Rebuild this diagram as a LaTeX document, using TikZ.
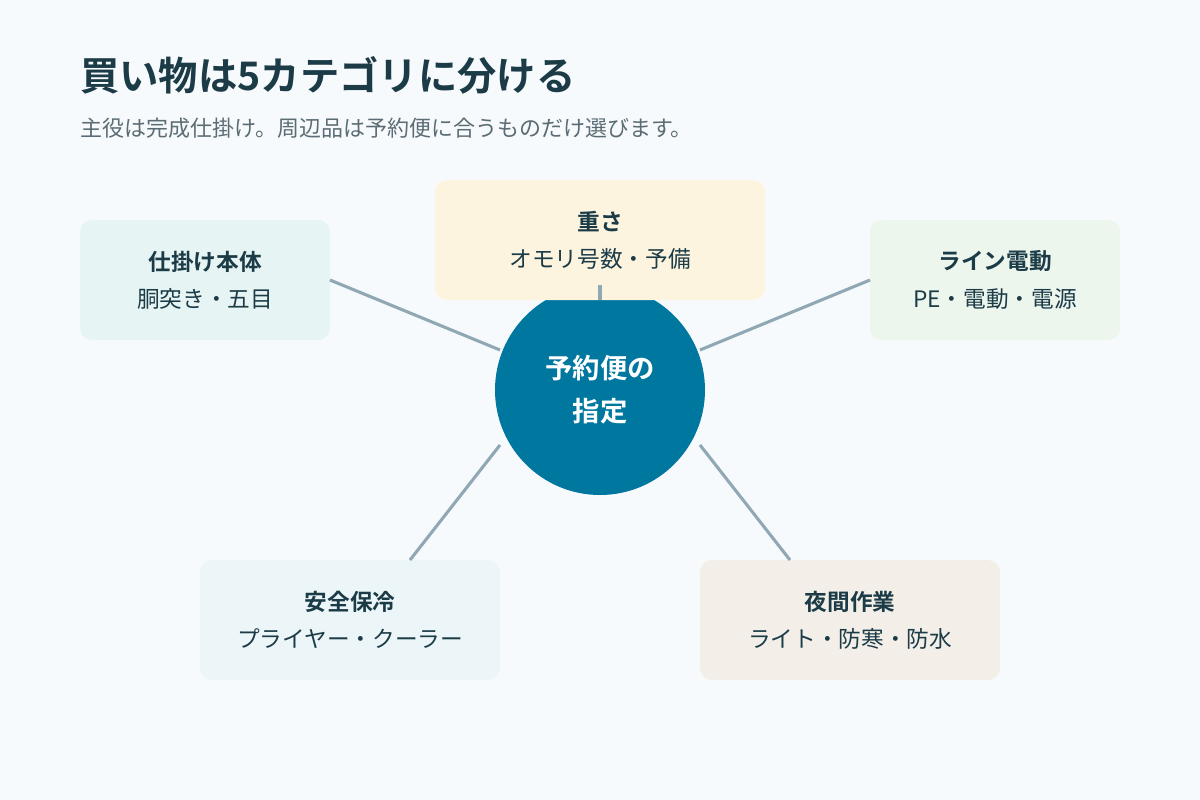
\documentclass[tikz,border=0pt]{standalone}
\usepackage{fontspec}
\setmainfont{Noto Sans CJK JP}
\newfontfamily\jpb{Noto Sans CJK JP Bold}
\definecolor{bg}{HTML}{F7FAFC}
\definecolor{ink}{HTML}{1B3B47}
\definecolor{sub}{HTML}{5B6C74}
\definecolor{ln}{HTML}{8FA8B3}
\definecolor{hub}{HTML}{00779F}
\begin{document}
\begin{tikzpicture}[x=0.75pt,y=-0.75pt,
  box/.style={rounded corners=9pt,draw=none},
  lab/.style={align=center,text=ink,font=\fontsize{17}{28}\selectfont},
  con/.style={draw=ln,line width=2.3pt}]
\fill[bg] (0,0) rectangle (1200,800);
\useasboundingbox (0,0) rectangle (1200,800);
\node[anchor=west,text=ink,font=\jpb\fontsize{29.5}{34}\selectfont,inner sep=0pt] (title) at (80,75) {買い物は5カテゴリに分ける};
\node[anchor=west,text=sub,font=\fontsize{16.5}{20}\selectfont,inner sep=0pt] (subt) at (80,128) {主役は完成仕掛け。周辺品は予約便に合うものだけ選びます。};
\node[circle,fill=hub,minimum size=157.5pt,inner sep=0pt] (hub) at (600,390) {};
\fill[box,fill={rgb,255:red,230;green,244;blue,244}] (80,220) rectangle (330,340);
\fill[box,fill={rgb,255:red,253;green,244;blue,224}] (435,180) rectangle (765,300);
\fill[box,fill={rgb,255:red,237;green,246;blue,237}] (870,220) rectangle (1120,340);
\fill[box,fill={rgb,255:red,236;green,246;blue,249}] (200,560) rectangle (500,680);
\fill[box,fill={rgb,255:red,243;green,239;blue,232}] (700,560) rectangle (1000,680);
\coordinate (b1) at (330,280); \coordinate (h1) at (500,350);
\coordinate (b2) at (600,285); \coordinate (h2) at (600,300);
\coordinate (b3) at (870,280); \coordinate (h3) at (700,350);
\coordinate (b4) at (410,560); \coordinate (h4) at (500,445);
\coordinate (b5) at (790,560); \coordinate (h5) at (700,445);
\foreach \i in {1,...,5} \draw[con] (b\i) -- (h\i);
\node[lab] (t1) at (205,280) {{\jpb 仕掛け本体}\\胴突き・五目};
\node[lab] (t2) at (600,240) {{\jpb 重さ}\\オモリ号数・予備};
\node[lab] (t3) at (995,280) {{\jpb ライン電動}\\PE・電動・電源};
\node[lab] (t4) at (350,620) {{\jpb 安全保冷}\\プライヤー・クーラー};
\node[lab] (t5) at (850,620) {{\jpb 夜間作業}\\ライト・防寒・防水};
\node[align=center,text=white,font=\jpb\fontsize{20.5}{32}\selectfont] (ht) at (600,390) {予約便の\\指定};
\end{tikzpicture}
\end{document}
